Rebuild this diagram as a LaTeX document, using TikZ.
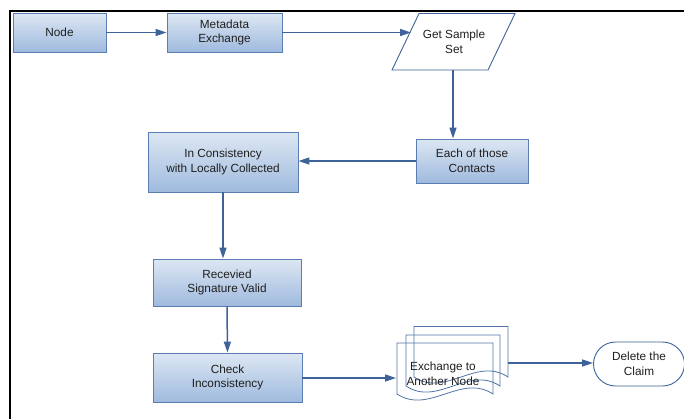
\documentclass[tikz,border=0pt]{standalone}
\usepackage{fontspec}
\setmainfont{Liberation Sans}
\usetikzlibrary{arrows.meta,shapes.misc}
\definecolor{boxtop}{HTML}{DDE7F3}
\definecolor{boxbot}{HTML}{9FBADE}
\definecolor{boxline}{HTML}{5A7EB3}
\definecolor{flow}{HTML}{3D6399}
\tikzset{
  every node/.style={font=\fontsize{11.8}{14.6}\selectfont, text=black!88, align=center},
  procbox/.style={draw=boxline, line width=0.9pt, top color=boxtop, bottom color=boxbot,
    shading angle=0, inner sep=0pt},
  plainshape/.style={draw=flow, line width=0.9pt, fill=white},
  pageline/.style={draw=flow!90, line width=0.8pt},
  flowline/.style={draw=flow, line width=1.5pt, -{Triangle[length=11pt,width=7pt]}},
}
\begin{document}
\begin{tikzpicture}[x=1pt, y=-1pt]
\useasboundingbox (0,0) rectangle (684,418);
\clip (0,0) rectangle (684,418);

% outer frame (top and left edges)
\draw[line width=2pt, black] (9.5,419) -- (9.5,11) -- (685,11);

% process boxes
\node[procbox, minimum width=93pt, minimum height=39pt] (node) at (59.5,32.5) {Node};
\node[procbox, minimum width=115pt, minimum height=39pt] (meta) at (224.5,32.5) {Metadata\\Exchange};
\node[procbox, minimum width=112pt, minimum height=44pt] (each) at (472,161) {Each of those\\Contacts};
\node[procbox, minimum width=150pt, minimum height=60pt] (cons) at (223,162) {In Consistency\\with Locally Collected};
\node[procbox, minimum width=148pt, minimum height=47pt] (recv) at (227,282.5) {Recevied\\Signature Valid};
\node[procbox, minimum width=149pt, minimum height=49pt] (check) at (227.5,377.5) {Check\\Inconsistency};

% input/output parallelogram
\coordinate (pTL) at (419,13.5);
\coordinate (pTR) at (515,13.5);
\coordinate (pBR) at (488,70);
\coordinate (pBL) at (392,70);
\draw[plainshape] (pTL) -- (pTR) -- (pBR) -- (pBL) -- cycle;
\node (sample) at (454,42) {Get Sample\\Set};
\coordinate (sampleIn) at (411,32.5);
\coordinate (sampleOut) at (453,70);

% stacked documents, outlines only: left, right, top, wave base
\def\docpage#1#2#3#4{%
  \draw[pageline] (#1,#4) -- (#1,#3) -- (#2,#3) -- (#2,#4)
    .. controls (#2*2/3+#1/3,#4-21) and (#2/3+#1*2/3,#4+21) .. (#1,#4) -- cycle;}
\docpage{414}{508}{326.5}{377}
\docpage{406}{500}{335}{386}
\docpage{397}{493}{343}{394}
\node (multi) at (443,374) {Exchange to\\Another Node};
\coordinate (multiIn) at (396,378);
\coordinate (multiOut) at (508,363);

% terminal
\node[rounded rectangle, draw=flow, line width=0.9pt, fill=white,
  minimum width=91pt, minimum height=44pt, inner sep=0pt] (del) at (639,364) {Delete the\\Claim};

% connectors
\draw[flowline] (node.east) -- (meta.west);
\draw[flowline] (meta.east) -- (sampleIn);
\draw[flowline] (sampleOut) -- (sampleOut |- each.north);
\draw[flowline] (each.west) -- (cons.east |- each.west);
\draw[flowline] (cons.south) -- (cons.south |- recv.north);
\draw[flowline] (recv.south) -- (check.north);
\draw[flowline] (check.east |- multiIn) -- (multiIn);
\draw[flowline] (multiOut) -- (del.west |- multiOut);
\end{tikzpicture}
\end{document}
